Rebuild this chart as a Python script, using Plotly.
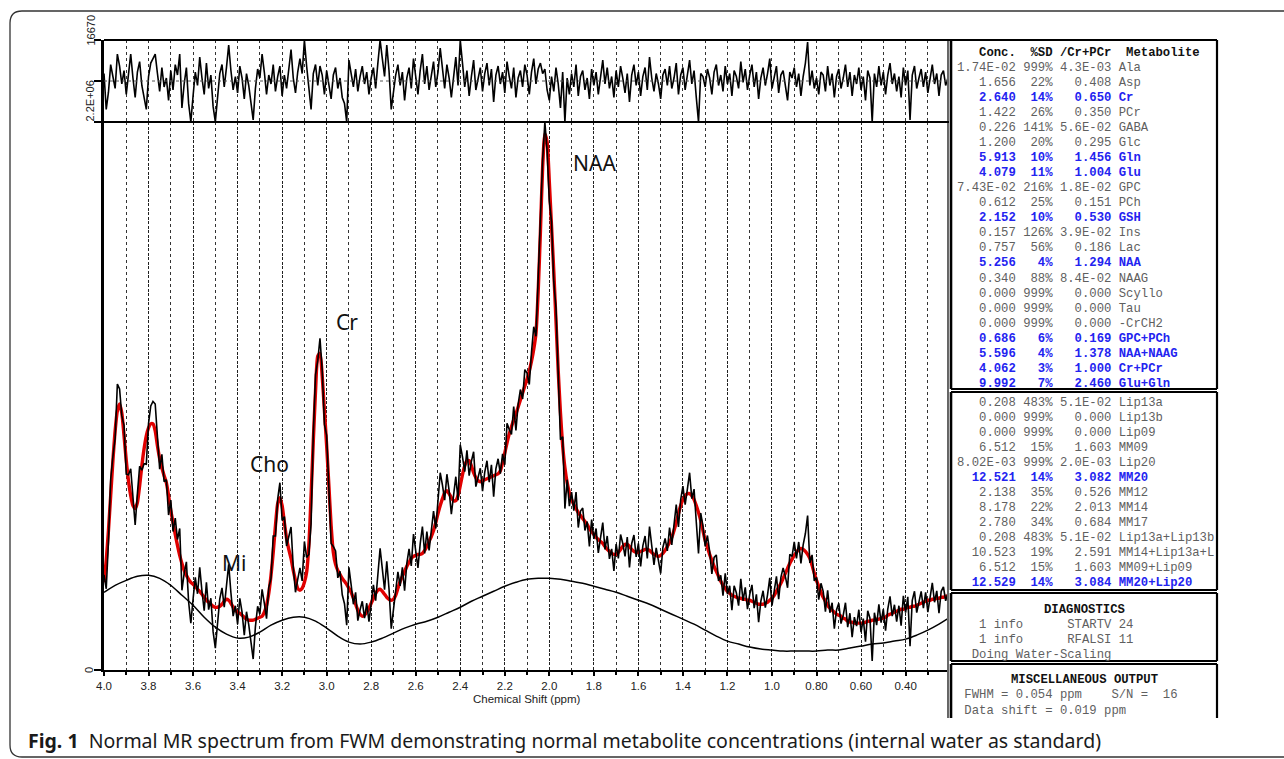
import numpy as np
import plotly.graph_objects as go

W, H = 1284, 759
def px(x):
    return x / W
def py(y):
    return 1 - y / H

# ---------------- data (values in thousands of signal units) ----------------
ppm = np.round(np.arange(400, 19, -1) / 100.0, 2)          # 4.00 .. 0.20
base_ppm = np.round(np.arange(400, 19, -5) / 100.0, 2)     # 4.00 .. 0.20

fit = [
352,440,560,700,840,960,1040,1068,1032,940,
840,760,700,660,648,672,740,820,888,940,
972,988,988,960,900,848,812,780,752,700,
640,592,544,500,460,428,400,380,364,352,
344,336,324,316,304,292,280,272,264,256,
252,252,256,264,276,284,280,268,252,240,
232,228,220,212,204,200,200,200,204,208,
212,216,232,260,308,380,472,580,668,692,
660,592,528,484,448,400,360,328,320,328,
352,392,500,700,920,1120,1260,1272,1180,1040,
900,740,580,472,424,400,384,368,356,344,
328,312,288,264,240,224,216,220,232,248,
268,288,308,320,324,316,304,292,284,280,
284,300,328,356,376,396,416,432,448,456,
460,464,464,468,480,496,516,536,560,592,
628,660,688,712,720,708,692,680,680,700,
740,784,820,840,840,820,792,772,760,756,
760,764,768,772,776,780,784,788,800,832,
872,912,948,976,1004,1028,1056,1084,1112,1140,
1168,1200,1240,1288,1352,1520,1760,2020,2152,2120,
1960,1780,1600,1400,1200,1032,900,812,752,712,
684,664,648,632,620,608,596,584,568,556,
544,532,524,516,508,496,484,476,468,464,
464,472,484,496,504,504,496,484,476,472,
472,476,480,484,484,480,472,464,460,456,
460,468,480,496,512,532,560,592,628,660,
684,700,708,708,700,684,660,632,600,560,
520,492,464,440,416,396,376,356,340,328,
316,308,300,296,292,288,288,284,284,280,
280,276,272,268,264,264,264,268,272,280,
288,300,316,332,348,368,388,408,428,444,
460,472,484,488,484,476,464,448,420,388,
360,336,312,292,276,260,248,240,232,224,
220,216,208,204,196,192,192,188,188,188,
188,188,192,196,196,200,200,204,204,208,
208,212,220,224,228,232,236,240,244,244,
248,252,252,256,256,260,264,268,272,276,
280,280,284,284,288,288,292,292,296,296,
300]

residual = [
30,-114,-45,66,18,-30,108,60,-12,42,
-54,24,108,12,-66,36,78,-18,-60,-114,
18,72,90,108,30,-42,54,-24,12,-78,
42,-36,66,24,108,-108,-12,54,-90,-164,
-60,36,-18,96,12,-54,72,-30,24,-102,
-164,-78,30,66,-24,54,144,42,-36,18,
-48,60,12,-72,30,-18,-84,-156,-30,48,
12,108,36,-54,24,-12,66,-42,18,60,
-60,24,-30,54,126,12,-48,36,90,30,
164,60,-36,-114,30,66,-18,60,24,-54,
42,-12,-72,24,54,-30,12,-66,-90,-164,
84,30,-24,48,-42,18,60,-12,36,-54,
12,54,-30,72,164,90,18,144,42,-114,
-42,24,66,-18,36,-78,12,54,-30,90,
18,-54,42,108,-12,60,-36,24,78,-24,
36,132,54,-30,66,12,-66,30,96,-18,
164,72,-24,42,-60,18,84,-36,12,54,
-42,30,72,-18,48,-84,24,60,-12,36,
-48,78,18,-30,54,-66,12,42,-24,66,
24,-54,36,90,-12,48,72,30,48,-36,
-78,18,-42,54,-12,-108,36,-164,12,-54,
30,-24,66,-60,18,42,-36,12,-72,48,
-18,36,-54,24,84,-12,54,-30,18,-66,
42,-24,60,12,-48,30,-84,24,66,-18,
36,-60,18,54,-36,96,12,-42,30,-12,
-72,24,48,-18,60,-30,12,72,-54,24,
54,-36,18,84,-12,42,-66,-164,30,18,
-24,48,12,-54,36,66,-18,24,-42,60,
-12,30,-60,42,18,-30,78,-6,48,-36,
24,66,-24,36,-72,12,54,-18,30,90,
-30,18,60,-48,24,42,-12,-78,36,12,
54,-24,30,-60,18,72,156,-18,42,-30,
12,-54,36,24,-42,60,-18,30,-66,18,
48,-30,12,66,-24,36,-60,24,-12,54,
-36,18,-78,42,12,-164,30,-24,60,-18,
36,-54,24,72,-12,30,-42,18,-66,54,
-18,42,-156,24,60,-30,12,48,-24,36,
-48,18,66,-12,30,-60,24,42,-18,12,
30]

baseline = [
312,340,360,376,380,368,340,300,260,212,
172,144,128,132,152,180,200,212,212,196,
168,136,112,104,112,128,148,168,184,196,
212,232,252,276,296,316,336,352,364,368,
368,364,356,348,336,324,312,296,280,264,
244,224,204,184,160,136,116,104,92,84,
80,76,76,76,76,80,80,88,96,104,
108,116,124,140,160,184,212]

major_ticks = [4.0, 3.8, 3.6, 3.4, 3.2, 3.0, 2.8, 2.6, 2.4, 2.2, 2.0, 1.8, 1.6,
               1.4, 1.2, 1.0, 0.8, 0.6, 0.4]
major_text = ["4.0", "3.8", "3.6", "3.4", "3.2", "3.0", "2.8", "2.6", "2.4", "2.2",
              "2.0", "1.8", "1.6", "1.4", "1.2", "1.0", "0.80", "0.60", "0.40"]
minor_ticks = [3.9, 3.7, 3.5, 3.3, 3.1, 2.9, 2.7, 2.5, 2.3, 2.1, 1.9, 1.7, 1.5,
               1.3, 1.1, 0.9, 0.7, 0.5, 0.3]

peak_labels = ["NAA", "Cr", "Cho", "Mi"]
peak_label_pos = [(594, 163), (347, 322), (269, 464), (234, 563)]

# table 1
t1_conc = ["1.74E-02", "1.656", "2.640", "1.422", "0.226", "1.200", "5.913", "4.079",
           "7.43E-02", "0.612", "2.152", "0.157", "0.757", "5.256", "0.340", "0.000",
           "0.000", "0.000", "0.686", "5.596", "4.062", "9.992"]
t1_sd = ["999%", "22%", "14%", "26%", "141%", "20%", "10%", "11%", "216%", "25%", "10%",
         "126%", "56%", "4%", "88%", "999%", "999%", "999%", "6%", "4%", "3%", "7%"]
t1_ratio = ["4.3E-03", "0.408", "0.650", "0.350", "5.6E-02", "0.295", "1.456", "1.004",
            "1.8E-02", "0.151", "0.530", "3.9E-02", "0.186", "1.294", "8.4E-02", "0.000",
            "0.000", "0.000", "0.169", "1.378", "1.000", "2.460"]
t1_name = ["Ala", "Asp", "Cr", "PCr", "GABA", "Glc", "Gln", "Glu", "GPC", "PCh", "GSH",
           "Ins", "Lac", "NAA", "NAAG", "Scyllo", "Tau", "-CrCH2", "GPC+PCh", "NAA+NAAG",
           "Cr+PCr", "Glu+Gln"]
t1_hi = [0, 0, 1, 0, 0, 0, 1, 1, 0, 0, 1, 0, 0, 1, 0, 0, 0, 0, 1, 1, 1, 1]

# table 2
t2_conc = ["0.208", "0.000", "0.000", "6.512", "8.02E-03", "12.521", "2.138", "8.178",
           "2.780", "0.208", "10.523", "6.512", "12.529"]
t2_sd = ["483%", "999%", "999%", "15%", "999%", "14%", "35%", "22%", "34%", "483%",
         "19%", "15%", "14%"]
t2_ratio = ["5.1E-02", "0.000", "0.000", "1.603", "2.0E-03", "3.082", "0.526", "2.013",
            "0.684", "5.1E-02", "2.591", "1.603", "3.084"]
t2_name = ["Lip13a", "Lip13b", "Lip09", "MM09", "Lip20", "MM20", "MM12", "MM14", "MM17",
           "Lip13a+Lip13b", "MM14+Lip13a+L", "MM09+Lip09", "MM20+Lip20"]
t2_hi = [0, 0, 0, 0, 0, 1, 0, 0, 0, 0, 0, 0, 1]

diag_lines = ["   1 info      STARTV 24", "   1 info      RFALSI 11", "  Doing Water-Scaling"]
misc_lines = [" FWHM = 0.054 ppm    S/N =  16", " Data shift = 0.019 ppm"]

caption_bold = "Fig. 1"
caption_text = "Normal MR spectrum from FWM demonstrating normal metabolite concentrations (internal water as standard)"

# ---------------- figure ----------------
fit_a = np.array(fit, dtype=float)
res_a = np.array(residual, dtype=float)
data_a = fit_a + res_a

fig = go.Figure()
fig.add_trace(go.Scatter(x=ppm, y=fit_a, mode="lines", xaxis="x", yaxis="y",
                         line=dict(color="#e00000", width=3.4, shape="spline", smoothing=0.6),
                         hoverinfo="skip"))
fig.add_trace(go.Scatter(x=ppm, y=data_a, mode="lines", xaxis="x", yaxis="y",
                         line=dict(color="#000000", width=1.6), hoverinfo="skip"))
fig.add_trace(go.Scatter(x=base_ppm, y=baseline, mode="lines", xaxis="x", yaxis="y",
                         line=dict(color="#000000", width=1.5, shape="spline"),
                         hoverinfo="skip"))
fig.add_trace(go.Scatter(x=ppm, y=res_a, mode="lines", xaxis="x2", yaxis="y2",
                         line=dict(color="#000000", width=1.6), hoverinfo="skip"))

xdom = [px(104), px(947)]
xrange = [4.0, 0.214]
tickfont = dict(family="Liberation Sans, Arial, sans-serif", size=11.5, color="#222")

mono = "Liberation Mono, Courier New, monospace"
NB = "\u00a0"

annotations = []
def ann(text, x, y, size=12, color="#000", family=mono, xanchor="left",
        yanchor="middle", angle=0):
    annotations.append(dict(text=text, x=px(x), y=py(y), xref="paper", yref="paper",
                            xanchor=xanchor, yanchor=yanchor, showarrow=False,
                            textangle=angle,
                            font=dict(family=family, size=size, color=color)))

# peak labels
for lab, (lx, ly) in zip(peak_labels, peak_label_pos):
    ann(lab, lx, ly, size=21, color="#111", family="Noto Sans, Open Sans, sans-serif",
        xanchor="center")

# y-axis labels
ann("2.2E+06", 90, 123, size=11, color="#222", family="Liberation Sans, Arial",
    xanchor="center", yanchor="bottom", angle=-90)
ann("16670", 90, 47, size=11, color="#222", family="Liberation Sans, Arial",
    xanchor="center", yanchor="bottom", angle=-90)
ann("0", 89, 670, size=11, color="#222", family="Liberation Sans, Arial",
    xanchor="center", angle=-90)
ann("Chemical Shift (ppm)", 527, 699, size=11.5, color="#222",
    family="Liberation Sans, Arial", xanchor="center")

# table text
TS = 12.25
GRAY = "#5f5f5f"
BLUE = "#2323f0"
def row(c, s, r, n):
    t = f"{c:>8} {s:>4} {r:>7} {n}"
    return t.replace(" ", NB)

ann("<b>" + "   Conc.  %SD /Cr+PCr  Metabolite".replace(" ", NB) + "</b>", 955, 52.7,
    size=TS, color="#111")
for k in range(len(t1_name)):
    t = row(t1_conc[k], t1_sd[k], t1_ratio[k], t1_name[k])
    y = 67.7 + 15.06 * k
    if t1_hi[k]:
        ann("<b>" + t + "</b>", 955, y, size=TS, color=BLUE)
    else:
        ann(t, 955, y, size=TS, color=GRAY)
for k in range(len(t2_name)):
    t = row(t2_conc[k], t2_sd[k], t2_ratio[k], t2_name[k])
    y = 402.7 + 15.05 * k
    if t2_hi[k]:
        ann("<b>" + t + "</b>", 955, y, size=TS, color=BLUE)
    else:
        ann(t, 955, y, size=TS, color=GRAY)

ann("<b>DIAGNOSTICS</b>", 1084, 610, size=TS, color="#111", xanchor="center")
for k, t in enumerate(diag_lines):
    ann(t.replace(" ", NB), 955, 624.5 + 15.2 * k, size=TS, color=GRAY)
ann("<b>MISCELLANEOUS" + NB + "OUTPUT</b>", 1084, 680, size=TS, color="#111", xanchor="center")
for k, t in enumerate(misc_lines):
    ann(t.replace(" ", NB), 955, 695 + 16 * k, size=TS, color=GRAY)

# caption
annotations.append(dict(
    text="<b>" + caption_bold.replace(" ", NB) + "</b>" + NB + NB + caption_text,
    x=px(26), y=py(740), xref="paper", yref="paper", xanchor="left", yanchor="middle",
    showarrow=False, font=dict(family="Noto Sans, Open Sans, sans-serif", size=19.5,
                               color="#1a1a1a")))

# shapes
shapes = []
def line(x0, y0, x1, y1, w=2.0, color="#000", dash="solid"):
    shapes.append(dict(type="line", xref="paper", yref="paper", x0=px(x0), y0=py(y0),
                       x1=px(x1), y1=py(y1), line=dict(color=color, width=w, dash=dash)))

line(104, 40, 951, 40, 2.2)
line(104, 122, 949, 122, 2.2)
line(104, 81, 947, 81, 1, "#555", "dot")
# table boxes
for (y0, y1) in [(40, 389), (392, 590), (593, 661)]:
    line(951, y0, 1217, y0, 2.2)
    line(951, y1, 1217, y1, 2.2)
    line(951, y0, 951, y1, 2.6)
    line(1217, y0, 1217, y1, 2.2)
line(951, 664, 1217, 664, 2.2)
line(951, 664, 951, 718, 2.6)
line(1217, 664, 1217, 718, 2.2)
line(948, 40, 948, 718, 1.2)

# rounded outer frame
r = 12
fx0, fy0, fy1, fx1 = 10, 11, 757, 1300
path = (f"M {px(fx1)},{py(fy0)} L {px(fx0 + r)},{py(fy0)} "
        f"Q {px(fx0)},{py(fy0)} {px(fx0)},{py(fy0 + r)} "
        f"L {px(fx0)},{py(fy1 - r)} Q {px(fx0)},{py(fy1)} {px(fx0 + r)},{py(fy1)} "
        f"L {px(fx1)},{py(fy1)}")
shapes.append(dict(type="path", xref="paper", yref="paper", path=path,
                   line=dict(color="#333", width=1.3)))

fig.update_layout(
    template="none",
    width=W, height=H, autosize=False,
    margin=dict(l=0, r=0, t=0, b=0, pad=0),
    paper_bgcolor="white", plot_bgcolor="white",
    showlegend=False,
    xaxis=dict(domain=xdom, range=xrange, anchor="y", automargin=False,
               tickvals=major_ticks, ticktext=major_text, tickfont=tickfont,
               ticks="outside", ticklen=4, tickwidth=2, tickcolor="#000",
               showline=True, linecolor="#000", linewidth=2,
               showgrid=True, gridcolor="#222", gridwidth=1, griddash="3px,1.5px",
               zeroline=False,
               minor=dict(tickvals=minor_ticks, ticks="outside", ticklen=3, tickwidth=1.5,
                          tickcolor="#000", showgrid=True, gridcolor="#333", gridwidth=1,
                          griddash="dot")),
    yaxis=dict(domain=[py(670), py(122)], range=[0, 2200], anchor="x", automargin=False,
               showgrid=False, zeroline=False, showline=True, linecolor="#000",
               linewidth=2.6, ticks="outside", tickvals=[0, 2200], ticklen=7,
               tickwidth=2, tickcolor="#000", showticklabels=False),
    xaxis2=dict(domain=xdom, range=xrange, anchor="y2", showticklabels=False,
                automargin=False,
                tickvals=sorted(major_ticks[1:] + minor_ticks), ticks="",
                showgrid=True, gridcolor="#333", gridwidth=1, griddash="dot",
                showline=False, zeroline=False),
    yaxis2=dict(domain=[py(122), py(40)], range=[-164.6, 164.6], anchor="x2",
                automargin=False,
                showgrid=False, zeroline=False, showline=True, linecolor="#000",
                linewidth=2.6, ticks="outside", tickvals=[0, 164.6], ticklen=7,
                tickwidth=2, tickcolor="#000", showticklabels=False),
    annotations=annotations,
    shapes=shapes,
)

fig.write_html("out.html", config={"displayModeBar": False},
               post_script="document.body.style.margin='0';document.body.style.overflow='hidden';")
